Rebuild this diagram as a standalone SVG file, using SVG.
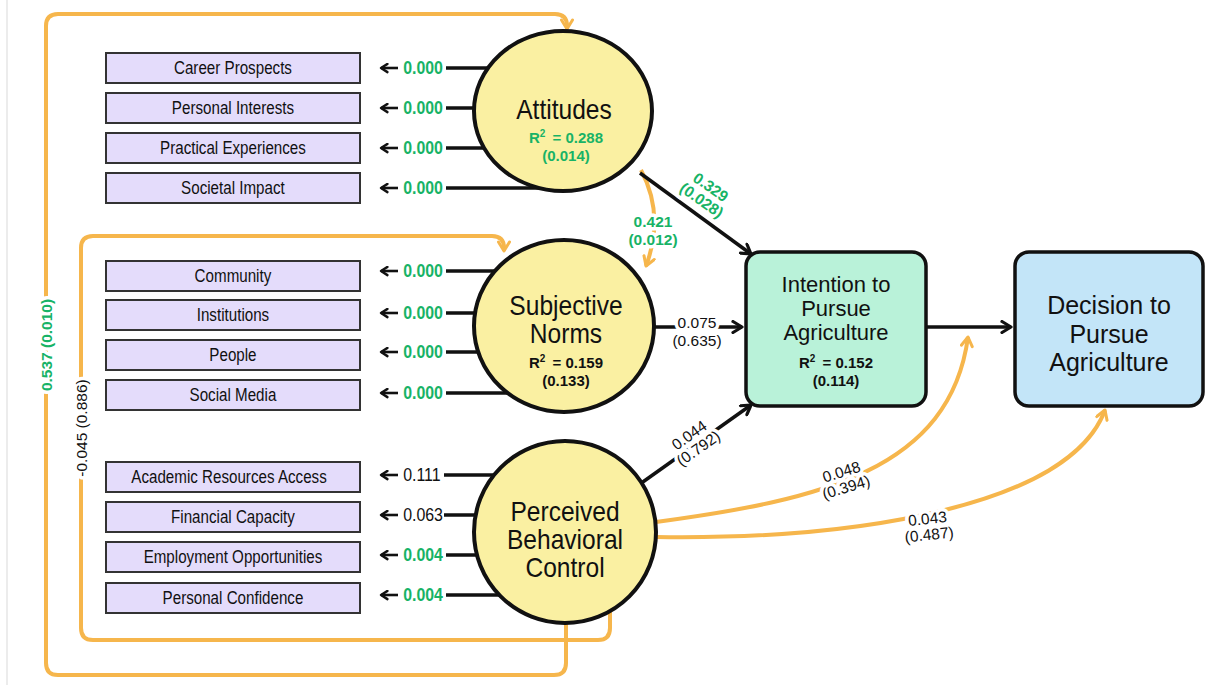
<svg xmlns="http://www.w3.org/2000/svg" width="1205" height="685" viewBox="0 0 1205 685">
  <defs>
    <style>
      text { font-family: "Liberation Sans", Arial, sans-serif; fill: #111; }
      .ind rect { fill: #e4dcfb; stroke: #333; stroke-width: 2; }
      .ind text { font-size: 18.5px; text-anchor: middle; }
      .lv { fill: #faf0a2; stroke: #111; stroke-width: 4; }
      .lvt { font-size: 27px; text-anchor: middle; }
      .r2 { font-size: 15px; font-weight: bold; text-anchor: middle; }
      .grn { fill: #17b366; }
      .blk { stroke: #111; stroke-width: 3.5; fill: none; }
      .thin { stroke: #111; stroke-width: 2.6; fill: none; }
      .org { stroke: #f6b64c; stroke-width: 4; fill: none; }
      .lbl { font-size: 15.5px; text-anchor: middle; paint-order: stroke; stroke: #fff; stroke-width: 7px; stroke-linejoin: round; }
      .lblb { font-size: 15.5px; font-weight: bold; text-anchor: middle; paint-order: stroke; stroke: #fff; stroke-width: 7px; stroke-linejoin: round; }
      .ld { font-size: 17.5px; }
    </style>
    <marker id="ahb" viewBox="0 0 14 14" refX="12" refY="7" markerWidth="14" markerHeight="14" orient="auto" markerUnits="userSpaceOnUse">
      <path d="M3,1.5 L12,7 L3,12.5" fill="none" stroke="#111" stroke-width="3.2" stroke-linecap="round" stroke-linejoin="round"/>
    </marker>
    <marker id="ahs" viewBox="0 0 12 12" refX="10" refY="6" markerWidth="11" markerHeight="11" orient="auto" markerUnits="userSpaceOnUse">
      <path d="M3,1.5 L10,6 L3,10.5" fill="none" stroke="#111" stroke-width="2.6" stroke-linecap="round" stroke-linejoin="round"/>
    </marker>
    <marker id="aho" viewBox="0 0 14 14" refX="12" refY="7" markerWidth="14" markerHeight="14" orient="auto" markerUnits="userSpaceOnUse">
      <path d="M3,1.5 L12,7 L3,12.5" fill="none" stroke="#f6b64c" stroke-width="3" stroke-linecap="round" stroke-linejoin="round"/>
    </marker>
  </defs>

  <rect x="0" y="0" width="1205" height="685" fill="#fff"/>
  <line x1="7" y1="0" x2="7" y2="685" stroke="#e6e6e6" stroke-width="1.5"/>

  <g id="connectors">
    <!-- outer loop: PBC -> Attitudes -->
    <path class="org" d="M566 620 L566 663 Q566 675 554 675 L58 675 Q46 675 46 663 L46 26 Q46 14 58 14 L555 14 Q567 14 567 26 L567 29" marker-end="url(#aho)"/>
    <text class="lblb grn" transform="translate(46,345) rotate(-90)" dy="5.5">0.537 (0.010)</text>
    <!-- inner loop: PBC -> Subjective Norms -->
    <path class="org" d="M610 612 L610 628 Q610 640 598 640 L93 640 Q81 640 81 628 L81 248 Q81 236 93 236 L492 236 Q504 236 504 248 L504 251" marker-end="url(#aho)"/>
    <text class="lbl" transform="translate(81,428) rotate(-90)" dy="5.5">-0.045 (0.886)</text>

    <!-- Attitudes indicators -->
    <g>
      <line class="thin" x1="398" y1="68" x2="381" y2="68" marker-end="url(#ahs)"/>
      <line class="blk" x1="446" y1="68" x2="560" y2="68"/>
      <text class="ld grn" transform="scale(0.91,1)" x="443" y="74.5" font-weight="bold">0.000</text>
      <line class="thin" x1="398" y1="108" x2="381" y2="108" marker-end="url(#ahs)"/>
      <line class="blk" x1="446" y1="108" x2="560" y2="108"/>
      <text class="ld grn" transform="scale(0.91,1)" x="443" y="114.5" font-weight="bold">0.000</text>
      <line class="thin" x1="398" y1="148" x2="381" y2="148" marker-end="url(#ahs)"/>
      <line class="blk" x1="446" y1="148" x2="560" y2="148"/>
      <text class="ld grn" transform="scale(0.91,1)" x="443" y="154.5" font-weight="bold">0.000</text>
      <line class="thin" x1="398" y1="188" x2="381" y2="188" marker-end="url(#ahs)"/>
      <line class="blk" x1="446" y1="188" x2="560" y2="188"/>
      <text class="ld grn" transform="scale(0.91,1)" x="443" y="194.5" font-weight="bold">0.000</text>
    </g>
    <!-- Subjective Norms indicators -->
    <g>
      <line class="thin" x1="398" y1="271" x2="381" y2="271" marker-end="url(#ahs)"/>
      <line class="blk" x1="446" y1="271" x2="560" y2="271"/>
      <text class="ld grn" transform="scale(0.91,1)" x="443" y="277.5" font-weight="bold">0.000</text>
      <line class="thin" x1="398" y1="313" x2="381" y2="313" marker-end="url(#ahs)"/>
      <line class="blk" x1="446" y1="313" x2="560" y2="313"/>
      <text class="ld grn" transform="scale(0.91,1)" x="443" y="319.5" font-weight="bold">0.000</text>
      <line class="thin" x1="398" y1="352" x2="381" y2="352" marker-end="url(#ahs)"/>
      <line class="blk" x1="446" y1="352" x2="560" y2="352"/>
      <text class="ld grn" transform="scale(0.91,1)" x="443" y="358.5" font-weight="bold">0.000</text>
      <line class="thin" x1="398" y1="393" x2="381" y2="393" marker-end="url(#ahs)"/>
      <line class="blk" x1="446" y1="393" x2="560" y2="393"/>
      <text class="ld grn" transform="scale(0.91,1)" x="443" y="399.5" font-weight="bold">0.000</text>
    </g>
    <!-- PBC indicators -->
    <g>
      <line class="thin" x1="398" y1="475" x2="381" y2="475" marker-end="url(#ahs)"/>
      <line class="blk" x1="444" y1="475" x2="560" y2="475"/>
      <text class="ld" transform="scale(0.91,1)" x="443" y="481.5">0.111</text>
      <line class="thin" x1="398" y1="515" x2="381" y2="515" marker-end="url(#ahs)"/>
      <line class="blk" x1="444" y1="515" x2="560" y2="515"/>
      <text class="ld" transform="scale(0.91,1)" x="443" y="521.5">0.063</text>
      <line class="thin" x1="398" y1="555" x2="381" y2="555" marker-end="url(#ahs)"/>
      <line class="blk" x1="446" y1="555" x2="560" y2="555"/>
      <text class="ld grn" transform="scale(0.91,1)" x="443" y="561.5" font-weight="bold">0.004</text>
      <line class="thin" x1="398" y1="595" x2="381" y2="595" marker-end="url(#ahs)"/>
      <line class="blk" x1="446" y1="595" x2="560" y2="595"/>
      <text class="ld grn" transform="scale(0.91,1)" x="443" y="601.5" font-weight="bold">0.004</text>
    </g>

    <!-- Attitudes -> Subjective Norms -->
    <path class="org" d="M641 170 Q665 215 646 266" marker-end="url(#aho)"/>
    <text class="lblb grn" x="653" y="227">0.421</text>
    <text class="lblb grn" x="653" y="245">(0.012)</text>

    <!-- Attitudes -> Intention -->
    <line class="blk" x1="640" y1="173" x2="751" y2="254" marker-end="url(#ahb)"/>
    <g transform="translate(706,194) rotate(35)">
      <text class="lblb grn" x="0" y="-3">0.329</text>
      <text class="lblb grn" x="0" y="13">(0.028)</text>
    </g>

    <!-- Subjective Norms -> Intention -->
    <line class="blk" x1="650" y1="327" x2="742" y2="327" marker-end="url(#ahb)"/>
    <text class="lbl" x="697" y="328">0.075</text>
    <text class="lbl" x="697" y="346">(0.635)</text>

    <!-- PBC -> Intention -->
    <line class="blk" x1="640" y1="484" x2="751" y2="405" marker-end="url(#ahb)"/>
    <g transform="translate(694,442) rotate(-35)">
      <text class="lbl" x="0" y="-3">0.044</text>
      <text class="lbl" x="0" y="13">(0.792)</text>
    </g>

    <!-- PBC -> Intention (orange) -->
    <path class="org" d="M656 522 C820 500 950 470 968 337" marker-end="url(#aho)"/>
    <g transform="translate(843,477) rotate(-17)">
      <text class="lbl" x="0" y="0">0.048</text>
      <text class="lbl" x="0" y="16">(0.394)</text>
    </g>

    <!-- PBC -> Decision (orange) -->
    <path class="org" d="M656 537 C860 540 1070 505 1105 410" marker-end="url(#aho)"/>
    <g transform="translate(928,524) rotate(-6)">
      <text class="lbl" x="0" y="0">0.043</text>
      <text class="lbl" x="0" y="16">(0.487)</text>
    </g>

    <!-- Intention -> Decision -->
    <line class="blk" x1="926" y1="327" x2="1011" y2="327" marker-end="url(#ahb)"/>
  </g>

  <!-- indicator boxes; labels are drawn narrowed, x given in the narrowed frame (233 / 0.82) -->
  <g id="ind-career" class="ind"><rect x="106" y="53" width="254" height="30"/><text transform="scale(0.82,1)" x="284.1" y="74.5">Career Prospects</text></g>
  <g id="ind-interests" class="ind"><rect x="106" y="93" width="254" height="30"/><text transform="scale(0.82,1)" x="284.1" y="114.5">Personal Interests</text></g>
  <g id="ind-practical" class="ind"><rect x="106" y="133" width="254" height="30"/><text transform="scale(0.82,1)" x="284.1" y="154.5">Practical Experiences</text></g>
  <g id="ind-societal" class="ind"><rect x="106" y="173" width="254" height="30"/><text transform="scale(0.82,1)" x="284.1" y="194.5">Societal Impact</text></g>

  <g id="ind-community" class="ind"><rect x="106" y="261" width="254" height="30"/><text transform="scale(0.82,1)" x="284.1" y="282.5">Community</text></g>
  <g id="ind-institutions" class="ind"><rect x="106" y="300" width="254" height="30"/><text transform="scale(0.82,1)" x="284.1" y="321.5">Institutions</text></g>
  <g id="ind-people" class="ind"><rect x="106" y="340" width="254" height="30"/><text transform="scale(0.82,1)" x="284.1" y="361.5">People</text></g>
  <g id="ind-social" class="ind"><rect x="106" y="380" width="254" height="30"/><text transform="scale(0.82,1)" x="284.1" y="401.5">Social Media</text></g>

  <g id="ind-academic" class="ind"><rect x="106" y="462" width="254" height="30"/><text transform="scale(0.82,1)" x="279.3" y="483.5">Academic Resources Access</text></g>
  <g id="ind-financial" class="ind"><rect x="106" y="502" width="254" height="30"/><text transform="scale(0.82,1)" x="284.1" y="523.5">Financial Capacity</text></g>
  <g id="ind-employment" class="ind"><rect x="106" y="542" width="254" height="30"/><text transform="scale(0.82,1)" x="284.1" y="563.5">Employment Opportunities</text></g>
  <g id="ind-confidence" class="ind"><rect x="106" y="583" width="254" height="30"/><text transform="scale(0.82,1)" x="284.1" y="604.5">Personal Confidence</text></g>

  <!-- latent constructs; names narrowed to 0.91 (x = centre / 0.91) -->
  <g id="attitudes">
    <ellipse class="lv" cx="563" cy="111" rx="89" ry="80"/>
    <text class="lvt" transform="scale(0.91,1)" x="619.8" y="119">Attitudes</text>
    <text class="r2 grn" x="566" y="143">R<tspan dy="-6" font-size="10">2</tspan><tspan dy="6" dx="3"> = 0.288</tspan></text>
    <text class="r2 grn" x="566" y="161">(0.014)</text>
  </g>
  <g id="subjective-norms">
    <ellipse class="lv" cx="564" cy="326" rx="90" ry="86"/>
    <text class="lvt" transform="scale(0.91,1)" x="622" y="315">Subjective</text>
    <text class="lvt" transform="scale(0.91,1)" x="622" y="343">Norms</text>
    <text class="r2" x="566" y="368">R<tspan dy="-6" font-size="10">2</tspan><tspan dy="6" dx="3"> = 0.159</tspan></text>
    <text class="r2" x="566" y="386">(0.133)</text>
  </g>
  <g id="perceived-behavioral-control">
    <ellipse class="lv" cx="565" cy="532" rx="91" ry="91"/>
    <text class="lvt" transform="scale(0.91,1)" x="620.9" y="521">Perceived</text>
    <text class="lvt" transform="scale(0.91,1)" x="620.9" y="549">Behavioral</text>
    <text class="lvt" transform="scale(0.91,1)" x="620.9" y="577">Control</text>
  </g>

  <!-- outcomes -->
  <g id="intention">
    <rect x="746" y="252" width="180" height="154" rx="14" fill="#b9f2d9" stroke="#111" stroke-width="3.5"/>
    <text x="836" y="292" font-size="22" text-anchor="middle">Intention to</text>
    <text x="836" y="316" font-size="22" text-anchor="middle">Pursue</text>
    <text x="836" y="340" font-size="22" text-anchor="middle">Agriculture</text>
    <text class="r2" x="836" y="368">R<tspan dy="-6" font-size="10">2</tspan><tspan dy="6" dx="3"> = 0.152</tspan></text>
    <text class="r2" x="836" y="386">(0.114)</text>
  </g>
  <g id="decision">
    <rect x="1015" y="252" width="188" height="154" rx="14" fill="#c3e5f8" stroke="#111" stroke-width="3.5"/>
    <text x="1109" y="314" font-size="25" text-anchor="middle">Decision to</text>
    <text x="1109" y="343" font-size="25" text-anchor="middle">Pursue</text>
    <text x="1109" y="371" font-size="25" text-anchor="middle">Agriculture</text>
  </g>
</svg>
